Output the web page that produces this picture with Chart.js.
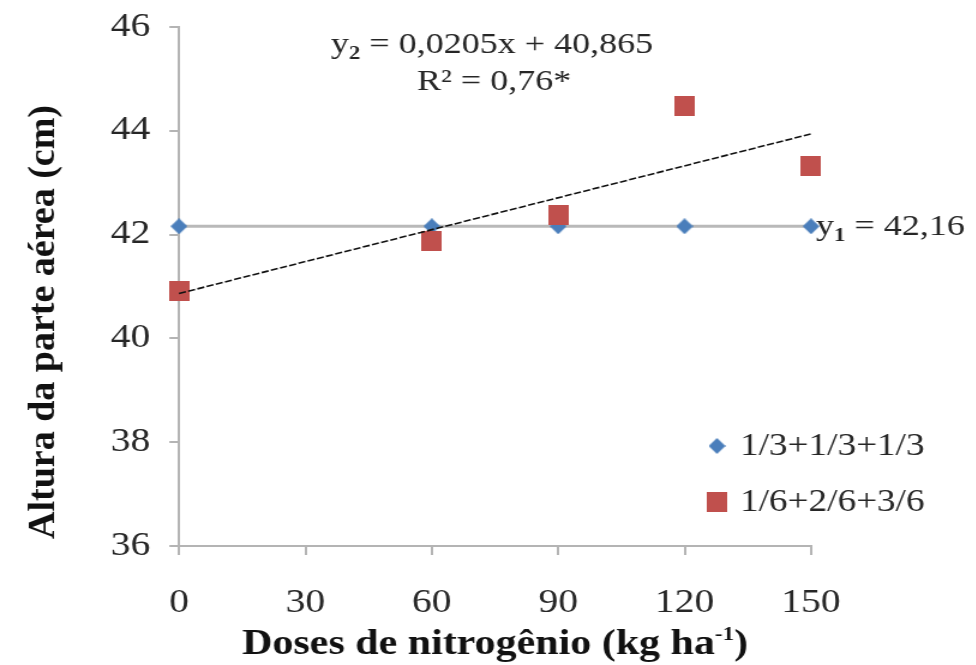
<!DOCTYPE html>
<html><head><meta charset="utf-8">
<script src="https://cdn.jsdelivr.net/npm/chart.js@4.4.0/dist/chart.umd.min.js"></script>
<style>
html,body{margin:0;padding:0;background:#fff;overflow:hidden;}
#wrap{width:813px;height:665px;transform:scaleX(1.2);transform-origin:0 0;}
canvas{display:block;}
</style></head><body>
<div id="wrap"><canvas id="c" width="813" height="665"></canvas></div>
<script>
// ---- data ----
const doses = [0, 60, 90, 120, 150];
const series1Name = '1/3+1/3+1/3';
const series1 = [42.16, 42.16, 42.16, 42.16, 42.16];
const series2Name = '1/6+2/6+3/6';
const series2 = [40.92, 41.87, 42.37, 44.47, 43.33];
const fit1X = [0, 150];
const fit1Y = [42.16, 42.16];
const fit2X = [0, 150];
const fit2Y = [40.865, 43.94];
const xTicks = [0, 30, 60, 90, 120, 150];
const yTicks = [36, 38, 40, 42, 44, 46];
const eq2Text = ['y', '2', ' = 0,0205x + 40,865'];
const r2Text = 'R\u00B2 = 0,76*';
const eq1Text = ['y', '1', ' = 42,16'];
const xTitleText = ['Doses de nitrog\u00EAnio (kg ha', '-1', ')'];
const yTitleText = 'Altura da parte a\u00E9rea (cm)';

// ---- style ----
const SX = 1.2;               // horizontal stretch applied by CSS
const W = 813, H = 665;
const SERIF = '"Liberation Serif", "Times New Roman", serif';
const TXT = '#262626';
const AXIS = '#b4b4b4';
const BLUE = '#4a7ebb';
const RED = '#c0504d';

function makeMarker(kind, color, w, h) {
  const c = document.createElement('canvas');
  const iw = Math.max(1, Math.round(w / SX));
  c.width = iw; c.height = h;
  const g = c.getContext('2d');
  g.fillStyle = color;
  if (kind === 'diamond') {
    g.beginPath(); g.moveTo(iw / 2, 0); g.lineTo(iw, h / 2); g.lineTo(iw / 2, h); g.lineTo(0, h / 2); g.closePath(); g.fill();
  } else {
    g.fillRect(0, 0, iw, h);
  }
  return c;
}
const diamond = makeMarker('diamond', BLUE, 17, 16);
const square = makeMarker('square', RED, 20, 20);

function drawParts(ctx, parts, x, y, align) {
  let total = 0;
  parts.forEach(p => { ctx.font = p.font; p.w = ctx.measureText(p.t).width; total += p.w; });
  let cx = align === 'center' ? x - total / 2 : x;
  ctx.textAlign = 'left';
  ctx.textBaseline = 'alphabetic';
  parts.forEach(p => { ctx.font = p.font; ctx.fillText(p.t, cx, y + (p.dy || 0)); cx += p.w; });
}

const textPlugin = {
  id: 'texts',
  afterDraw(chart) {
    const ctx = chart.ctx;
    const ca = chart.chartArea;
    ctx.save();
    ctx.fillStyle = TXT;
    // equation y2
    drawParts(ctx, [
      { t: eq2Text[0], font: `30px ${SERIF}` },
      { t: eq2Text[1], font: `bold 19px ${SERIF}`, dy: 6 },
      { t: eq2Text[2], font: `30px ${SERIF}` }
    ], 331 / SX, 53, 'left');
    ctx.font = `30px ${SERIF}`;
    ctx.textAlign = 'center';
    ctx.textBaseline = 'alphabetic';
    ctx.fillText(r2Text, 494 / SX, 90);
    // equation y1
    drawParts(ctx, [
      { t: eq1Text[0], font: `30px ${SERIF}` },
      { t: eq1Text[1], font: `bold 19px ${SERIF}`, dy: 6 },
      { t: eq1Text[2], font: `30px ${SERIF}` }
    ], 816 / SX, 235, 'left');
    // legend
    const lx = 717 / SX, tx = 740 / SX;
    const rows = [{ img: diamond, name: series1Name, y: 446 }, { img: square, name: series2Name, y: 502 }];
    rows.forEach(r => {
      ctx.drawImage(r.img, lx - r.img.width / 2, r.y - r.img.height / 2);
      ctx.font = `31px ${SERIF}`;
      ctx.textAlign = 'left';
      ctx.textBaseline = 'middle';
      ctx.fillText(r.name, tx, r.y + 1);
    });
    // x title
    ctx.fillStyle = '#111';
    drawParts(ctx, [
      { t: xTitleText[0], font: `bold 35px ${SERIF}` },
      { t: xTitleText[1], font: `bold 19px ${SERIF}`, dy: -14 },
      { t: xTitleText[2], font: `bold 35px ${SERIF}` }
    ], (ca.left + ca.right) / 2, 654, 'center');
    // y title
    ctx.save();
    ctx.translate(44 / SX, 322);
    ctx.rotate(-Math.PI / 2);
    ctx.scale(1, 0.85);
    ctx.font = `bold 38px ${SERIF}`;
    ctx.textAlign = 'center';
    ctx.textBaseline = 'middle';
    ctx.fillText(yTitleText, 0, 0);
    ctx.restore();
    ctx.restore();
  }
};

new Chart(document.getElementById('c'), {
  type: 'scatter',
  data: {
    datasets: [
      { label: 'trend2', data: fit2X.map((x, i) => ({ x, y: fit2Y[i] })), showLine: true, pointRadius: 0,
        borderColor: '#111', borderWidth: 1.6, borderDash: [6, 2], order: 0, clip: false },
      { label: series2Name, data: doses.map((x, i) => ({ x, y: series2[i] })), pointStyle: square,
        backgroundColor: RED, borderColor: RED, order: 1, clip: false },
      { label: series1Name, data: doses.map((x, i) => ({ x, y: series1[i] })), pointStyle: diamond,
        backgroundColor: BLUE, borderColor: BLUE, order: 2, clip: false },
      { label: 'trend1', data: fit1X.map((x, i) => ({ x, y: fit1Y[i] })), showLine: true, pointRadius: 0,
        borderColor: '#b9b9b9', borderWidth: 3, order: 3, clip: false }
    ]
  },
  options: {
    responsive: false,
    animation: false,
    devicePixelRatio: 1,
    events: [],
    layout: { padding: { left: 0, right: W - 811 / SX, top: 27, bottom: 0 } },
    plugins: { legend: { display: false }, tooltip: { enabled: false } },
    scales: {
      x: {
        type: 'linear', min: 0, max: 150,
        afterBuildTicks: s => { s.ticks = xTicks.map(v => ({ value: v })); },
        afterFit: s => { s.height = H - 546; s.paddingLeft = 0; s.paddingRight = 0; },
        grid: { display: true, drawOnChartArea: false, drawTicks: true, tickLength: 9, color: AXIS, lineWidth: 2 },
        border: { display: true, color: AXIS, width: 2 },
        ticks: { color: TXT, font: { family: SERIF, size: 33 }, padding: 29, maxRotation: 0, autoSkip: false }
      },
      y: {
        type: 'linear', min: 36, max: 46,
        afterBuildTicks: s => { s.ticks = yTicks.map(v => ({ value: v })); },
        afterFit: s => { s.width = 179 / SX; s.paddingTop = 0; s.paddingBottom = 0; },
        grid: { display: true, drawOnChartArea: false, drawTicks: true, tickLength: 8, color: AXIS, lineWidth: 2 },
        border: { display: true, color: AXIS, width: 2 },
        ticks: { color: TXT, font: { family: SERIF, size: 33 }, padding: 16, autoSkip: false }
      }
    }
  },
  plugins: [textPlugin]
});
</script>
</body></html>
